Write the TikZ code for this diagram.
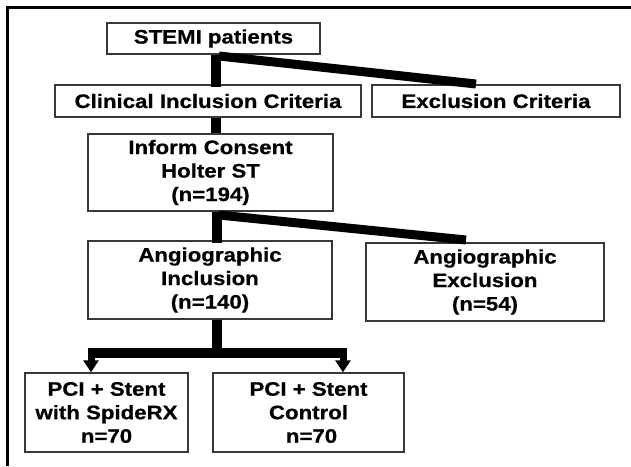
\documentclass[tikz,border=0pt]{standalone}
\usepackage{fontspec}
\setmainfont[FakeStretch=1.14,FakeBold=0.6]{Liberation Sans}
\usetikzlibrary{arrows.meta,calc}
\begin{document}
\begin{tikzpicture}[x=1pt,y=-1pt,
  box/.style={draw=black!78, line width=1.4pt, fill=white, align=center,
    font=\fontsize{19.5}{23.5}\selectfont\bfseries, inner sep=0pt},
  conn/.style={line width=10pt},
  diag/.style={line width=9pt},
  arr/.style={line width=7pt, -{Triangle[length=12pt,width=15pt]}}]
\useasboundingbox (0,0) rectangle (631,466);
\fill[white] (0,0) rectangle (631,466);
\draw[line width=3pt] (7,466) -- (7,7) -- (631,7);

\node[box, minimum width=213pt, minimum height=31pt] (stemi) at (213.5,38.5) {STEMI patients};
\node[box, minimum width=306pt, minimum height=32pt] (clin) at (208,101) {Clinical Inclusion Criteria};
\node[box, minimum width=248pt, minimum height=32pt] (excl) at (496,101) {Exclusion Criteria};
\node[box, minimum width=245pt, minimum height=77pt] (inform) at (210.5,172.5) {Inform Consent\\Holter ST\\(n=194)};
\node[box, minimum width=244pt, minimum height=78pt] (aincl) at (210,280) {Angiographic\\Inclusion\\(n=140)};
\node[box, minimum width=238pt, minimum height=78pt] (aexcl) at (485,282) {Angiographic\\Exclusion\\(n=54)};
\node[box, minimum width=163pt, minimum height=79pt] (pci1) at (106.5,412.5) {PCI + Stent\\with SpideRX\\n=70};
\node[box, minimum width=191pt, minimum height=79pt] (pci2) at (308.5,412.5) {PCI + Stent\\Control\\\hspace{6pt}n=70};

% STEMI -> criteria
\coordinate (j1) at (216,55);
\coordinate (d1s) at (219,56);
\coordinate (d1e) at (476,84);
\draw[conn] (j1) -- ([yshift=-3pt]j1 |- clin.north);
\draw[diag] (d1s) -- (d1e);
% clinical -> inform
\draw[conn] (clin.south -| j1) -- (inform.north -| j1);
% inform -> angiographic
\coordinate (j3) at (217,211);
\coordinate (d3s) at (219,215);
\coordinate (d3e) at (466,240);
\draw[conn] (inform.south -| j3) -- ([yshift=-3pt]aincl.north -| j3);
\draw[diag] (d3s) -- (d3e);
% angiographic inclusion -> PCI groups
\coordinate (bar) at (217,353);
\coordinate (barL) at (87.5,353);
\coordinate (barR) at (346.5,353);
\coordinate (arrL) at (91,350);
\coordinate (arrR) at (343,350);
\draw[conn] (aincl.south -| bar) -- (bar);
\draw[conn] (barL) -- (barR);
\draw[arr] (arrL) -- (arrL |- pci1.north);
\draw[arr] (arrR) -- (arrR |- pci2.north);
\end{tikzpicture}
\end{document}
